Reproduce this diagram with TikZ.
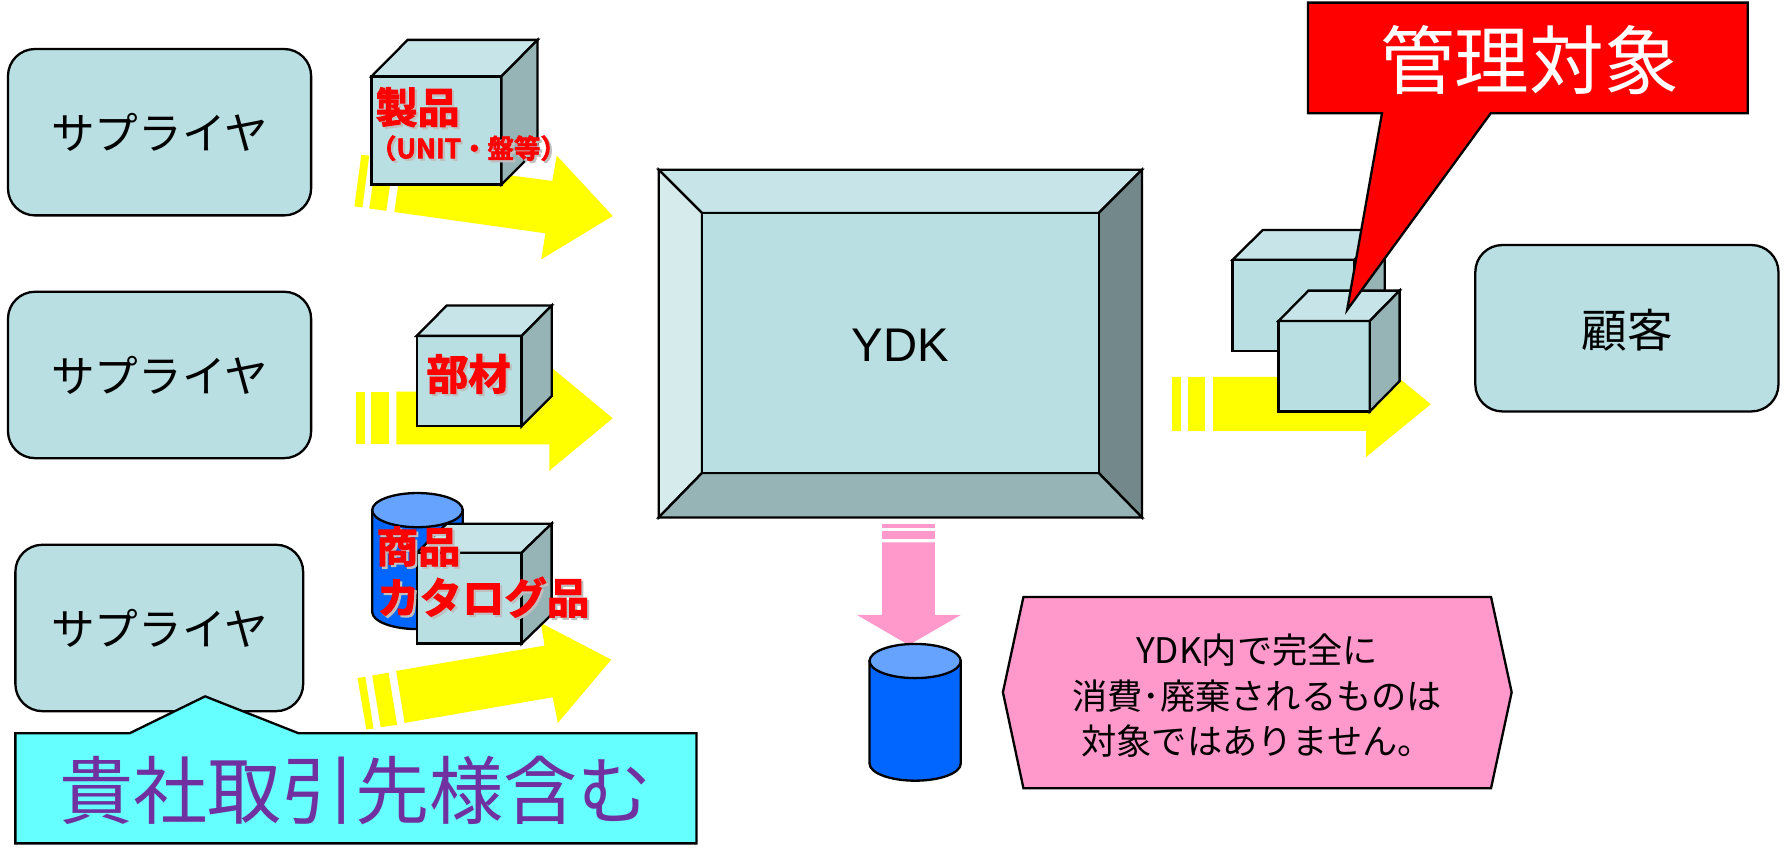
\documentclass[tikz,border=0pt]{standalone}
\usepackage{fontspec}
\setmainfont{Liberation Sans}
\newfontfamily\cjk{Noto Sans CJK JP}
\newfontfamily\cjkheavy{Noto Sans CJK JP Bold}[FakeBold=2.4]
\definecolor{face}{HTML}{B9DFE2}
\definecolor{facetop}{HTML}{C7E5E8}
\definecolor{faceside}{HTML}{96B3B5}
\definecolor{faceleft}{HTML}{D5EBEC}
\definecolor{facedark}{HTML}{72888A}
\definecolor{drumblue}{HTML}{0066FF}
\definecolor{drumtop}{HTML}{66A3FF}
\definecolor{pinkfill}{HTML}{FF99CC}
\definecolor{cyanfill}{HTML}{66FFFF}
\definecolor{purpletext}{HTML}{7030A0}
\definecolor{pureyellow}{RGB}{255,255,0}
\definecolor{purered}{RGB}{255,0,0}
\newcommand\fsz[1]{\fontsize{#1}{#1}\selectfont}
\newcommand\redshadow[1]{\rlap{\kern1.1pt\raisebox{-1.1pt}{\color{black!25}#1}}{\color{purered}#1}}
% front x0 y0 x1 y1, back-offset dx dy
\newcommand\boxcube[6]{%
  \filldraw[edge,fill=face] (#1,#2) rectangle (#3,#4);
  \filldraw[edge,fill=facetop] (#1,#2) -- (#1+#5,#2-#6) -- (#3+#5,#2-#6) -- (#3,#2) -- cycle;
  \filldraw[edge,fill=faceside] (#3,#2) -- (#3+#5,#2-#6) -- (#3+#5,#4-#6) -- (#3,#4) -- cycle;
}
\newcommand\drum[4]{% cx, top centre y, bottom centre y, rx
  \filldraw[edge,fill=drumblue] (#1-#4,#2) -- (#1-#4,#3) arc[start angle=180,end angle=360,x radius=#4,y radius=-15] -- (#1+#4,#2) -- cycle;
  \filldraw[edge,fill=drumtop] (#1,#2) ellipse[x radius=#4,y radius=15];
}
\tikzset{
  edge/.style={draw=black,line width=1.15pt,line join=miter},
  party/.style={edge,fill=face,rounded corners=13.5pt},
  label/.style={inner sep=0pt,outer sep=0pt},
  yarrow/.style={fill=pureyellow,draw=none},
  parrow/.style={fill=pinkfill,draw=none},
}
\begin{document}
\begin{tikzpicture}[x=0.02cm,y=-0.02cm]
\useasboundingbox (0,0) rectangle (1568,746.7);
\fill[white] (0,0) rectangle (1568,746.7);

% suppliers and customer
\draw[party] (7,43) rectangle (273,189);
\draw[party] (7,256) rectangle (273,402);
\draw[party] (13.5,478) rectangle (266,624);
\draw[party] (1294.5,215) rectangle (1560.5,361);
\node[label,font=\cjk\fsz{21.8}] (s1) at (140,116) {サプライヤ};
\node[label,font=\cjk\fsz{21.8}] (s2) at (140,329) {サプライヤ};
\node[label,font=\cjk\fsz{21.8}] (s3) at (140,551) {サプライヤ};
\node[label,font=\cjk\fsz{22.8}] (cust) at (1428,290) {顧客};

% arrow 1
\fill[yarrow] (317,136) -- (324,136.5) -- (318,182) -- (311,181) -- cycle;
\fill[yarrow] (330.5,138) -- (345.5,140) -- (339,185) -- (324,183) -- cycle;
\fill[yarrow] (352.5,141) -- (484.6,158.8) -- (488.5,136.5) -- (537.6,189.5) -- (475,227.5) -- (478.5,204.7) -- (346,186) -- cycle;
% arrow 2
\fill[yarrow] (312,343.6) rectangle (320,390);
\fill[yarrow] (325.5,343.6) rectangle (341,390);
\fill[yarrow] (347.7,343.6) -- (482,343.6) -- (482,321) -- (537.6,367) -- (482,413) -- (482,390) -- (347.7,390) -- cycle;
% arrow 3
\fill[yarrow] (313.7,594.8) -- (320.6,594) -- (327.8,639.3) -- (321.4,640) -- cycle;
\fill[yarrow] (326.6,592.8) -- (341,590.2) -- (348.4,636) -- (334,638) -- cycle;
\fill[yarrow] (347.6,588.7) -- (477.8,566.5) -- (474.6,546.6) -- (536.3,578.8) -- (489.5,634.3) -- (485,611.8) -- (355,634.3) -- cycle;
% arrow right
\fill[yarrow] (1028,330.7) rectangle (1036,378);
\fill[yarrow] (1042.6,330.7) rectangle (1057,378);
\fill[yarrow] (1064.4,330.7) -- (1198.6,330.7) -- (1198.6,308) -- (1255.4,354.7) -- (1198.6,401) -- (1198.6,378) -- (1064.4,378) -- cycle;

% product cubes
\boxcube{326}{67}{440}{162}{31.7}{32}
\boxcube{365.6}{294.7}{457.7}{374}{26.5}{26.7}
\drum{366.3}{447.6}{537}{39.7}
\boxcube{365.7}{485}{457.7}{564.7}{26.3}{25.5}

% YDK
\filldraw[edge,fill=facetop] (578,149) -- (1002,149) -- (964,187) -- (616,187) -- cycle;
\filldraw[edge,fill=faceleft] (578,149) -- (616,187) -- (616,415) -- (578,454) -- cycle;
\filldraw[edge,fill=facedark] (1002,149) -- (1002,454) -- (964,415) -- (964,187) -- cycle;
\filldraw[edge,fill=faceside] (578,454) -- (616,415) -- (964,415) -- (1002,454) -- cycle;
\filldraw[edge,fill=face] (616,187) rectangle (964,415);
\node[label,font=\fsz{23.6}] (ydk) at (790,303) {YDK};

% delivered cubes and red callout
\boxcube{1081.5}{228}{1188.5}{308}{26.5}{26.2}
\boxcube{1121.9}{281.6}{1201.9}{361}{26.2}{26.6}
\filldraw[edge,fill=purered] (1147.6,2.3) -- (1533.5,2.3) -- (1533.5,99.4) -- (1308,99.4) -- (1182,272) -- (1212.6,99.4) -- (1147.6,99.4) -- cycle;
\node[label,font=\cjk\fsz{37.3},text=white] (kanri) at (1342,53) {管理対象};

% pink arrow, drum, note
\fill[parrow] (774,459.8) rectangle (820.4,463.5);
\fill[parrow] (774,466) rectangle (820.4,473);
\fill[parrow] (774,476) -- (820.4,476) -- (820.4,539.6) -- (843,539.6) -- (797.4,566) -- (752,539.6) -- (774,539.6) -- cycle;
\drum{803}{580}{670}{40}
\filldraw[edge,fill=pinkfill] (880,607.4) -- (898,523.8) -- (1308.3,523.8) -- (1326.4,607.4) -- (1308.3,691.6) -- (898,691.6) -- cycle;
\node[label,font=\cjk\fontsize{17.6}{22.6}\selectfont,align=center] (note) at (1103,610.5) {YDK内で完全に\\消費･廃棄されるものは\\対象ではありません。};

% cyan callout
\filldraw[edge,fill=cyanfill] (13.5,643.4) -- (113.7,643.4) -- (180,611) -- (262,643.4) -- (611.2,643.4) -- (611.2,740) -- (13.5,740) -- cycle;
\node[label,font=\cjk\fsz{37},text=purpletext] (guest) at (312,694) {貴社取引先様含む};

% red labels
\node[label,font=\cjkheavy\fsz{21}] (l1) at (366.5,95) {\redshadow{製品}};
\node[label,font=\cjkheavy\fsz{13.2}] (l1b) at (411,131) {\redshadow{（UNIT・盤等）}};
\node[label,font=\cjkheavy\fsz{21}] (l2) at (411,329) {\redshadow{部材}};
\node[label,font=\cjkheavy\fsz{21}] (l3) at (367,480.5) {\redshadow{商品}};
\node[label,font=\cjkheavy\fsz{21.2}] (l4) at (424,525) {\redshadow{カタログ品}};
\end{tikzpicture}
\end{document}
